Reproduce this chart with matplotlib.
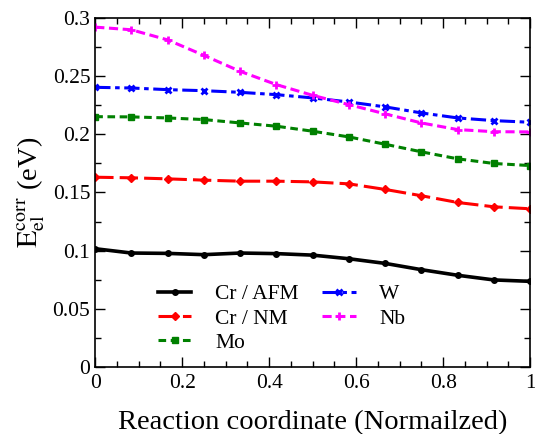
import numpy as np
import matplotlib
matplotlib.use("Agg")
import matplotlib.pyplot as plt
from matplotlib.ticker import MultipleLocator

plt.rcParams['font.family'] = ['Liberation Serif', 'DejaVu Serif']
plt.rcParams['mathtext.fontset'] = 'stix'

# reaction coordinate, 13 images along the path
x = np.linspace(0, 1, 13)

cr_afm = [0.1017, 0.0980, 0.0977, 0.0966, 0.0980, 0.0975, 0.0962,
          0.0931, 0.0891, 0.0837, 0.0789, 0.0749, 0.0737]
cr_nm = [0.1631, 0.1626, 0.1617, 0.1606, 0.1597, 0.1597, 0.1591,
         0.1574, 0.1526, 0.1472, 0.1414, 0.1377, 0.1360]
mo = [0.2151, 0.2149, 0.2140, 0.2126, 0.2097, 0.2069, 0.2026,
      0.1977, 0.1914, 0.1849, 0.1789, 0.1749, 0.1731]
w = [0.2403, 0.2397, 0.2383, 0.2374, 0.2360, 0.2340, 0.2312,
     0.2277, 0.2235, 0.2183, 0.2140, 0.2117, 0.2103]
nb = [0.2920, 0.2897, 0.2810, 0.2677, 0.2540, 0.2426, 0.2334,
      0.2254, 0.2175, 0.2097, 0.2040, 0.2022, 0.2020]

xticks = [0, 0.2, 0.4, 0.6, 0.8, 1]
xtick_labels = ['0', '0.2', '0.4', '0.6', '0.8', '1']
yticks = [0, 0.05, 0.1, 0.15, 0.2, 0.25, 0.3]
ytick_labels = ['0', '0.05', '0.1', '0.15', '0.2', '0.25', '0.3']

fig = plt.figure(figsize=(5.35, 4.34), dpi=100)
ax = fig.add_axes([0.178, 0.154, 0.813, 0.805])

ax.plot(x, cr_afm, color='black', ls='-', lw=2.6, marker='o', ms=4, label='Cr / AFM')
ax.plot(x, cr_nm, color='red', ls=(0, (6, 2)), lw=2.2, marker='D', ms=4, label='Cr / NM')
ax.plot(x, mo, color='green', ls=(0, (2.5, 1.5)), lw=2.2, marker='s', ms=5, label='Mo')
ax.plot(x, w, color='blue', ls=(0, (5, 1.5, 1.5, 1.5)), lw=2.2, marker='x', ms=5, mew=2, label='W')
ax.plot(x, nb, color='magenta', ls=(0, (3, 1.5)), lw=2.2, marker='+', ms=6, mew=2, label='Nb')

ax.set_xlim(0, 1)
ax.set_ylim(0, 0.3)
ax.xaxis.set_minor_locator(MultipleLocator(0.05))
ax.yaxis.set_minor_locator(MultipleLocator(0.025))
ax.set_xticks(xticks)
ax.set_xticklabels(xtick_labels, family='Liberation Serif')
ax.set_yticks(yticks)
ax.set_yticklabels(ytick_labels, family='Liberation Serif')
ax.tick_params(which='both', direction='in', top=True, right=True, labelsize=15.5)
ax.tick_params(which='major', length=7, width=1)
ax.tick_params(which='minor', length=4, width=1)
ax.tick_params(axis='x', pad=5)
for s in ax.spines.values():
    s.set_linewidth(1.2)

ax.set_xlabel('Reaction coordinate (Normailzed)', fontsize=20.5, labelpad=12)
ax.set_ylabel(r'$\mathrm{E}_{\mathrm{el}}^{\mathrm{corr}}$ (eV)', fontsize=20.5, labelpad=4)

ax.legend(ncol=2, loc='lower left', bbox_to_anchor=(0.1, -0.015), frameon=False,
          fontsize=15.5, handlelength=1.55, columnspacing=1.1, labelspacing=0.2,
          handletextpad=1.1)

fig.savefig('out.png', dpi=100)
